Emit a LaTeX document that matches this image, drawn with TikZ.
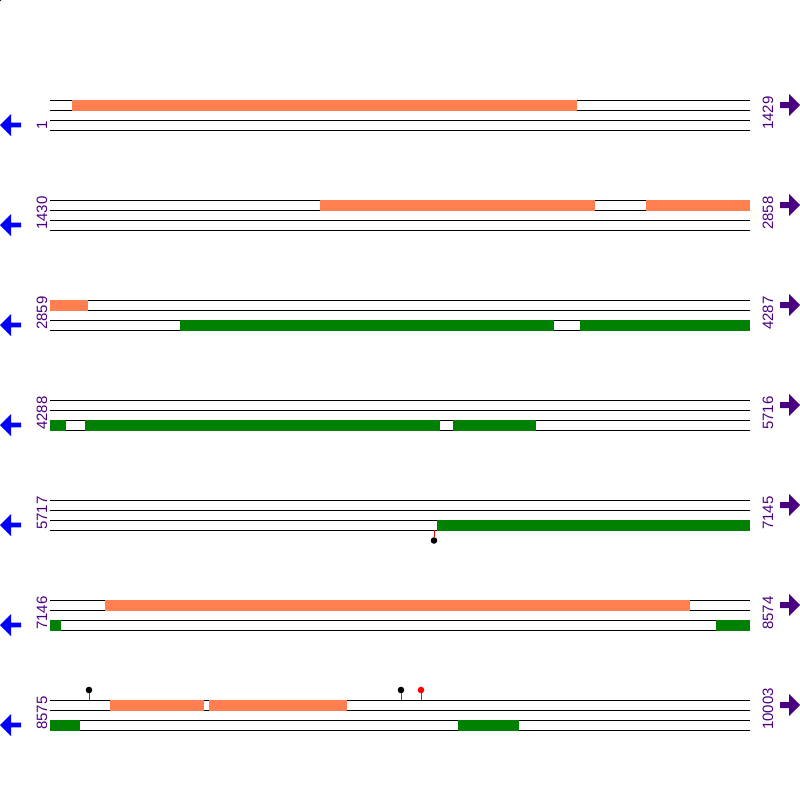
\documentclass[tikz,border=0pt]{standalone}
\usepackage{fontspec}
\setmainfont{Liberation Sans}
\usepackage{xcolor}
\usepackage{tikz}
\usetikzlibrary{positioning}

\definecolor{orfcol}{HTML}{FF7F50}
\definecolor{cdscol}{HTML}{008000}
\definecolor{numcol}{HTML}{4B0082}

\begin{document}
\begin{tikzpicture}[x=1pt, y=-1pt,
  poslabel/.style={rotate=90, anchor=base west, inner sep=0pt, text=numcol,
    font=\fontsize{15}{15}\selectfont},
  trackline/.style={line width=1pt, black}]
\useasboundingbox (0,0) rectangle (800,800);
\fill (0,0) circle (1.5);
% Tracks, position labels and strand arrows
\foreach \b/\s/\e [count=\i] in {
  100/1/1429,
  200/1430/2858,
  300/2859/4287,
  400/4288/5716,
  500/5717/7145,
  600/7146/8574,
  700/8575/10003
}{
  \foreach \k in {0,10,20,30}{
    \draw[trackline] (50,\b+\k) -- (750,\b+\k);
  }
  \node[poslabel] (start\i) at (47,\b+30) {\s};
  \node[poslabel] (end\i) at (773,\b+30) {\e};
  \fill[blue] (0,\b+25) -- (11,\b+14) -- (11,\b+22.7) -- (21,\b+22.7)
    -- (21,\b+27.3) -- (11,\b+27.3) -- (11,\b+36) -- cycle;
  \fill[numcol] (800,\b+5) -- (789,\b-6) -- (789,\b+2) -- (780,\b+2)
    -- (780,\b+8) -- (789,\b+8) -- (789,\b+16) -- cycle;
}
% ORF bars (upper track)
\foreach \xa/\xb/\b in {72/577/100, 320/595/200, 646/750/200, 50/88/300,
  105/690/600, 110/204/700, 209/347/700}{
  \fill[orfcol] (\xa,\b-0.5) rectangle (\xb,\b+10.5);
}
% CDS bars (lower track)
\foreach \xa/\xb/\b in {180/554/300, 580/750/300, 50/66/400, 85/440/400,
  453/536/400, 437/750/500, 50/61/600, 716/750/600, 50/80/700, 458/519/700}{
  \fill[cdscol] (\xa,\b+19.5) rectangle (\xb,\b+30.5);
}
% Sites
\draw[red, line width=1pt] (434,530) -- (434,537);
\fill[black] (434,540.5) circle (3.3);
\foreach \x/\c in {89/black, 401/black, 421/red}{
  \draw[red, line width=1pt] (\x,693) -- (\x,700);
  \fill[\c] (\x,690) circle (3.3);
}
\end{tikzpicture}
\end{document}
